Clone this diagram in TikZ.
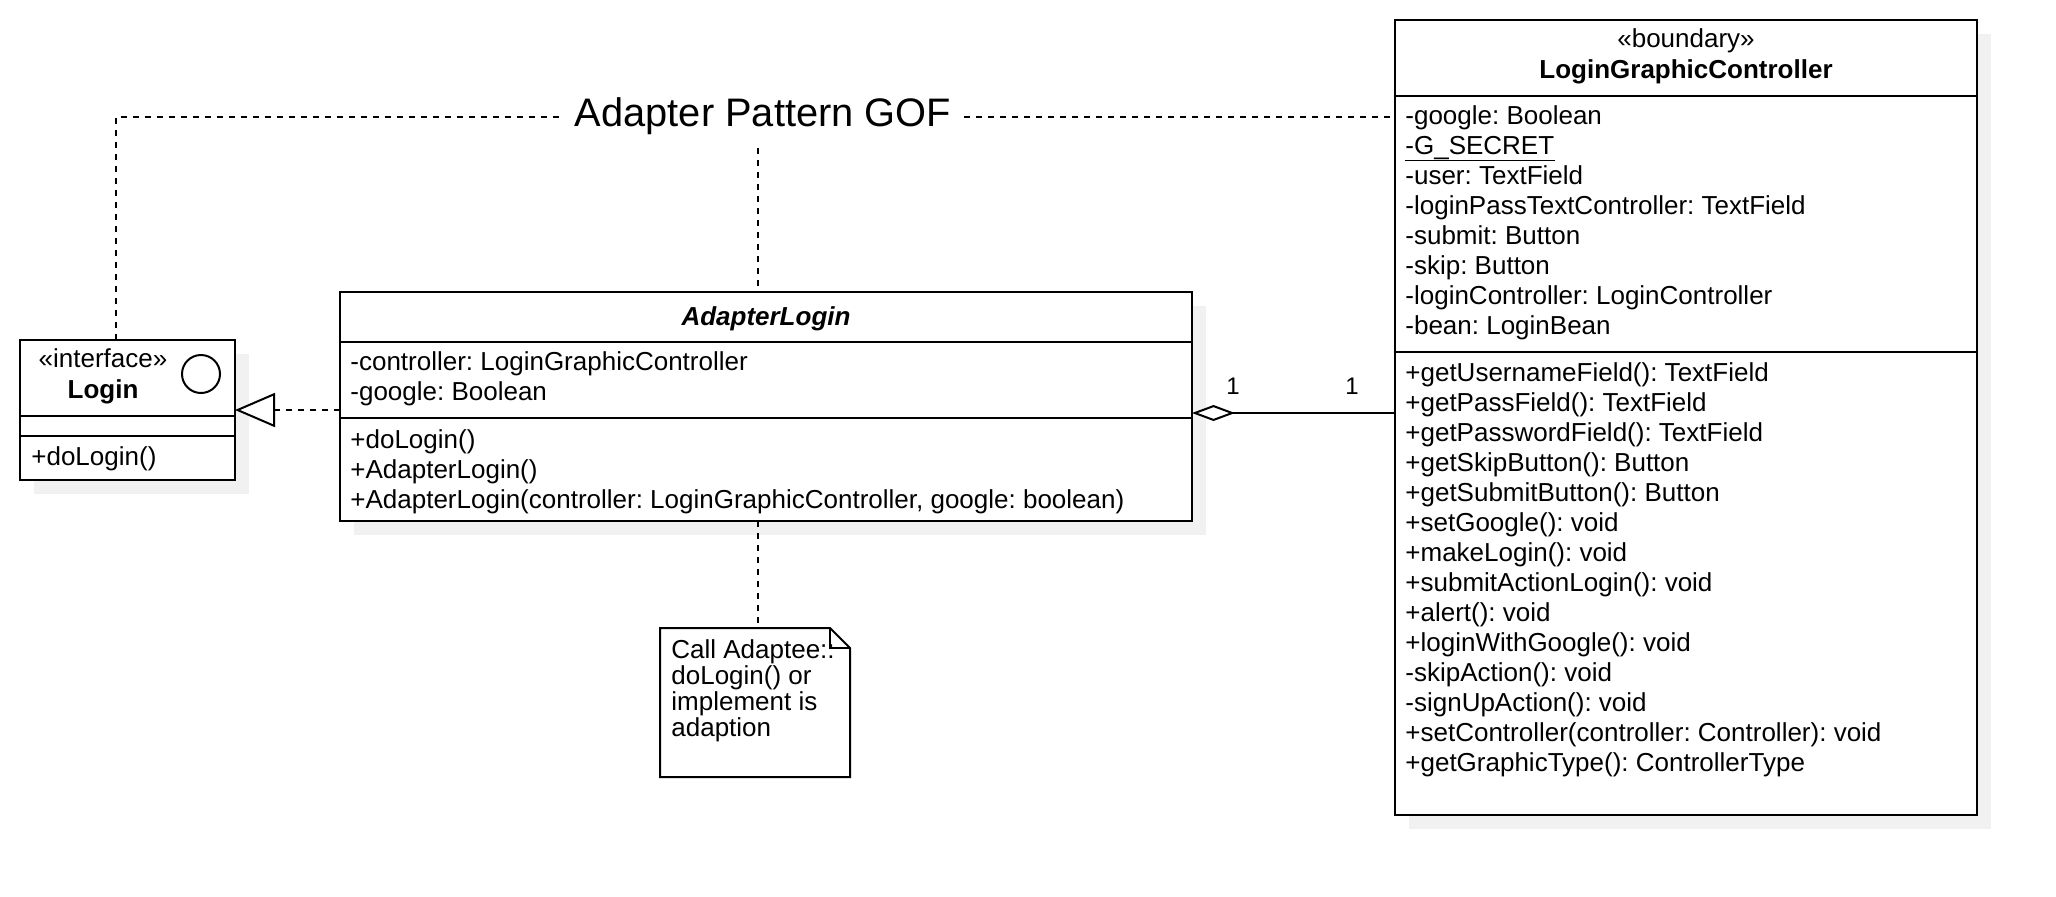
\documentclass[tikz,border=0pt]{standalone}
\usepackage{fontspec}
\setmainfont{Liberation Sans}
\usetikzlibrary{arrows.meta}
\definecolor{shadowc}{RGB}{241,241,241}
\newcommand{\bodyfont}{\fontsize{13.0}{15}\selectfont}
\frenchspacing
\begin{document}
\frenchspacing
\begin{tikzpicture}[x=0.5pt,y=-0.5pt,
  box/.style={draw, line width=1pt, fill=white, inner sep=0pt, outer sep=0pt, anchor=north west},
  txt/.style={font=\bodyfont, inner sep=0pt, anchor=base west},
  ctxt/.style={font=\bodyfont, inner sep=0pt, anchor=base},
  dashline/.style={line width=1pt, dash pattern=on 3pt off 3pt},
  sepline/.style={line width=1pt}]
\useasboundingbox (0,0) rectangle (2056,896);

% shadows
\fill[shadowc] (34,354) rectangle (249,494);
\fill[shadowc] (354,306) rectangle (1206,535);
\fill[shadowc] (1409,34) rectangle (1991,829);

% Login interface
\node[box, minimum width=107.5pt, minimum height=70pt] (login) at (20,340) {};
\draw[sepline] (20,416) -- (235,416);
\draw[sepline] (20,436) -- (235,436);
\node[circle, draw, line width=1pt, minimum size=19pt, inner sep=0pt] (icirc) at (201,374) {};
\node[ctxt] (loginst) at (103,367) {«interface»};
\node[ctxt] (loginname) at (103,398) {\textbf{Login}};
\node[txt] (loginm1) at (31,465) {+doLogin()};

% AdapterLogin
\node[box, minimum width=426pt, minimum height=114.5pt] (adapter) at (340,292) {};
\draw[sepline] (340,342) -- (1192,342);
\draw[sepline] (340,418) -- (1192,418);
\node[ctxt] (adaptername) at (766,325) {\textbf{\textit{AdapterLogin}}};
\foreach \t [count=\i] in {{-controller: LoginGraphicController},{-google: Boolean}}
  \node[txt] (adA\i) at (350,{370+30*(\i-1)}) {\t};
\foreach \t [count=\i] in {{+doLogin()},{+AdapterLogin()},{+AdapterLogin(controller: LoginGraphicController, google: boolean)}}
  \node[txt] (adM\i) at (350,{448+30*(\i-1)}) {\t};

% LoginGraphicController
\node[box, minimum width=291pt, minimum height=397.5pt] (lgc) at (1395,20) {};
\draw[sepline] (1395,96) -- (1977,96);
\draw[sepline] (1395,352) -- (1977,352);
\node[ctxt] (lgcst) at (1686,47) {«boundary»};
\node[ctxt] (lgcname) at (1686,78) {\textbf{LoginGraphicController}};
\foreach \t [count=\i] in {{-google: Boolean},{-G\_SECRET},{-user: TextField},{-loginPassTextController: TextField},{-submit: Button},{-skip: Button},{-loginController: LoginController},{-bean: LoginBean}}
  \node[txt] (lgcA\i) at (1405,{124+30*(\i-1)}) {\t};
\draw[line width=0.8pt] ([yshift=-3.3pt]lgcA2.base west) -- ([yshift=-3.3pt]lgcA2.base east);
\foreach \t [count=\i] in {{+getUsernameField(): TextField},{+getPassField(): TextField},{+getPasswordField(): TextField},{+getSkipButton(): Button},{+getSubmitButton(): Button},{+setGoogle(): void},{+makeLogin(): void},{+submitActionLogin(): void},{+alert(): void},{+loginWithGoogle(): void},{-skipAction(): void},{-signUpAction(): void},{+setController(controller: Controller): void},{+getGraphicType(): ControllerType}}
  \node[txt] (lgcM\i) at (1405,{381+30*(\i-1)}) {\t};

% Note
\node[inner sep=0pt, outer sep=0pt, minimum width=95pt, minimum height=74.5pt, anchor=north west] (note) at (660,628) {};
\draw[line width=1pt, fill=white] (note.north west) -- ([xshift=-10pt]note.north east) -- ([yshift=-10pt]note.north east) -- (note.south east) -- (note.south west) -- cycle;
\draw[line width=1pt] ([xshift=-10pt]note.north east) -- ([xshift=-10pt,yshift=-10pt]note.north east) -- ([yshift=-10pt]note.north east);
\foreach \t [count=\i] in {{Call Adaptee::},{doLogin() or},{implement is},{adaption}}
  \node[txt] (noteT\i) at (671,{658+26.2*(\i-1)}) {\t};

% Title
\node[font=\fontsize{19.9}{24}\selectfont, inner sep=0pt, outer sep=0pt, minimum width=201pt, minimum height=31.5pt] (title) at (763,116.5) {Adapter Pattern GOF};

% connectors
\coordinate (vx1) at (116,0);
\coordinate (vx2) at (758,0);
\coordinate (ry) at (0,410);
\coordinate (ay) at (0,413);
\draw[dashline] (login.north -| vx1) |- (title.west);
\draw[dashline] (title.east) -- (title.east -| lgc.west);
\draw[dashline] (title.south -| vx2) -- (adapter.north -| vx2);
\draw[dashline] (adapter.south -| vx2) -- (note.north -| vx2);
\draw[dashline, -{Triangle[length=20pt, width=17pt, fill=white]}] (adapter.west |- ry) -- (login.east |- ry);
\draw[line width=1pt, -{Diamond[length=21.5pt, width=8pt, fill=white]}] (lgc.west |- ay) -- (adapter.east |- ay);
\node[ctxt, font=\fontsize{12}{14}\selectfont] (mult1) at (1233,394) {1};
\node[ctxt, font=\fontsize{12}{14}\selectfont] (mult2) at (1352,394) {1};
\end{tikzpicture}
\end{document}
